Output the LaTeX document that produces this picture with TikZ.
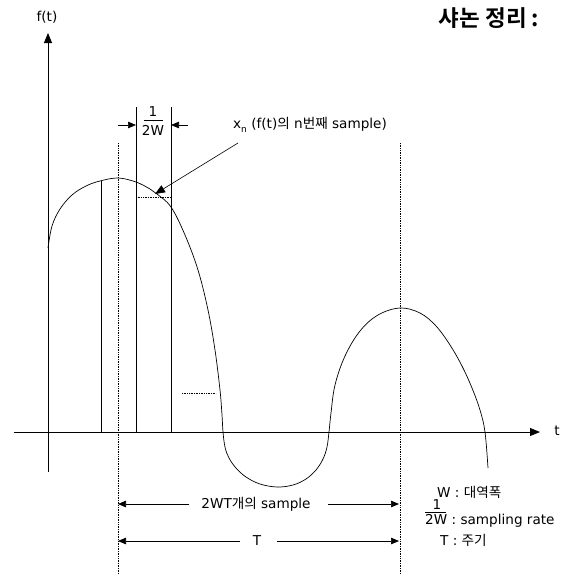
\documentclass[tikz,border=0pt]{standalone}
\usepackage{fontspec}
\setmainfont{DejaVu Sans}
\newfontfamily\kor{Noto Sans CJK KR}
\newfontfamily\korb{Noto Sans CJK KR Bold}
\usetikzlibrary{arrows.meta}
\begin{document}
\begin{tikzpicture}[x=1pt,y=-1pt,
  txt/.style={inner sep=0pt, font=\fontsize{13.6}{15}\selectfont},
  axisln/.style={line width=0.8pt, -{Triangle[length=10pt,width=8pt]}},
  ln/.style={line width=0.7pt},
  dotln/.style={line width=0.7pt, densely dotted},
  dimarr/.style={line width=0.7pt, -{Triangle[length=8pt,width=6.5pt]}},
  ptr/.style={line width=0.6pt, -{Triangle[length=10pt,width=8pt]}}]
\useasboundingbox (0,0) rectangle (565,574);

% axes
\coordinate (yb) at (48,472);
\coordinate (yt) at (48,33);
\draw[axisln] (yb) -- (yt);
\coordinate (xl) at (14,432);
\coordinate (xr) at (540,432);
\draw[axisln] (xl) -- (xr);
\node[txt] (ft) at (47,17) {f(t)};
\node[txt] (tl) at (557,431) {t};

% title
\node[inner sep=0pt, font=\fontsize{22.5}{24}\selectfont\korb] (title) at (489,18) {샤논 정리 :};

% dotted period markers
\coordinate (p1t) at (118,143); \coordinate (p1b) at (118,574);
\coordinate (p2t) at (400,143); \coordinate (p2b) at (400,574);
\draw[dotln] (p1t) -- (p1b);
\draw[dotln] (p2t) -- (p2b);

% sample lines
\coordinate (s1t) at (101,181); \coordinate (s1b) at (101,432);
\coordinate (s2t) at (136,107); \coordinate (s2b) at (136,432);
\coordinate (s3t) at (171,107); \coordinate (s3b) at (171,432);
\draw[ln] (s1t) -- (s1b);
\draw[ln] (s2t) -- (s2b);
\draw[ln] (s3t) -- (s3b);

% sample value dotted
\coordinate (h1l) at (136,197); \coordinate (h1r) at (171,197);
\draw[dotln] (h1l) -- (h1r);
\coordinate (h2l) at (182,393); \coordinate (h2r) at (216,393);
\draw[dotln] (h2l) -- (h2r);

% signal
\draw[line width=0.7pt] plot[smooth, tension=0.6] coordinates {
 (48,248) (52,226) (60,209) (72,195) (86,186) (100,181) (118,178) (136,182)
 (150,189) (157,194) (171,207) (185,235) (198,270) (208,310) (215,350)
 (220,390) (222,415) (223,432) (225,447) (229,458) (236,468) (246,477)
 (260,484) (277,487) (293,485) (306,479) (316,470) (323,459) (327,447)
 (329,432) (331,413) (335,385) (345,356) (360,331) (378,315) (400,308)
 (420,313) (436,326) (450,345) (462,366) (472,388) (480,410) (485,432) (488,468)};

% 1/2W dimension
\node[txt] (one) at (153,112) {1};
\coordinate (barl) at (144,120); \coordinate (barr) at (163,120);
\draw[line width=0.6pt] (barl) -- (barr);
\node[txt] (twow) at (153,130) {2W};
\coordinate (wl0) at (118,125); \coordinate (wl1) at (136,125);
\coordinate (wr0) at (188,125); \coordinate (wr1) at (171,125);
\draw[dimarr] (wl0) -- (wl1);
\draw[dimarr] (wr0) -- (wr1);

% x_n label and pointer
\node[txt, anchor=west] (xn) at (233,125)
 {x\raisebox{-0.45ex}{\fontsize{9}{9}\selectfont n} (f(t){\kor 의} n{\kor 번째} sample)};
\coordinate (xs) at (238,143);
\coordinate (xtip) at (155,194);
\draw[ptr] (xs) -- (xtip);

% 2WT samples dimension
\node[txt] (l2wt) at (256,504) {2WT{\kor 개의} sample};
\coordinate (a2l) at (118,504); \coordinate (a2r) at (399,504);
\draw[dimarr, shorten <=12pt] (l2wt.west) -- (a2l);
\draw[dimarr, shorten <=17pt] (l2wt.east) -- (a2r);

% T dimension
\node[txt] (lT) at (257,541) {T};
\coordinate (aTl) at (118,541); \coordinate (aTr) at (399,541);
\draw[dimarr, shorten <=13pt] (lT.west) -- (aTl);
\draw[dimarr, shorten <=16pt] (lT.east) -- (aTr);

% legend
\node[txt, anchor=west] (lw) at (437,492) {W : {\kor 대역폭}};
\node[txt] (lone) at (437,505) {1};
\coordinate (lbl) at (425,512); \coordinate (lbr) at (446,512);
\draw[line width=0.6pt] (lbl) -- (lbr);
\node[txt, anchor=west] (lrate) at (425,521) {2W : sampling rate};
\node[txt, anchor=west] (lper) at (440,540) {T : {\kor 주기}};
\end{tikzpicture}
\end{document}
